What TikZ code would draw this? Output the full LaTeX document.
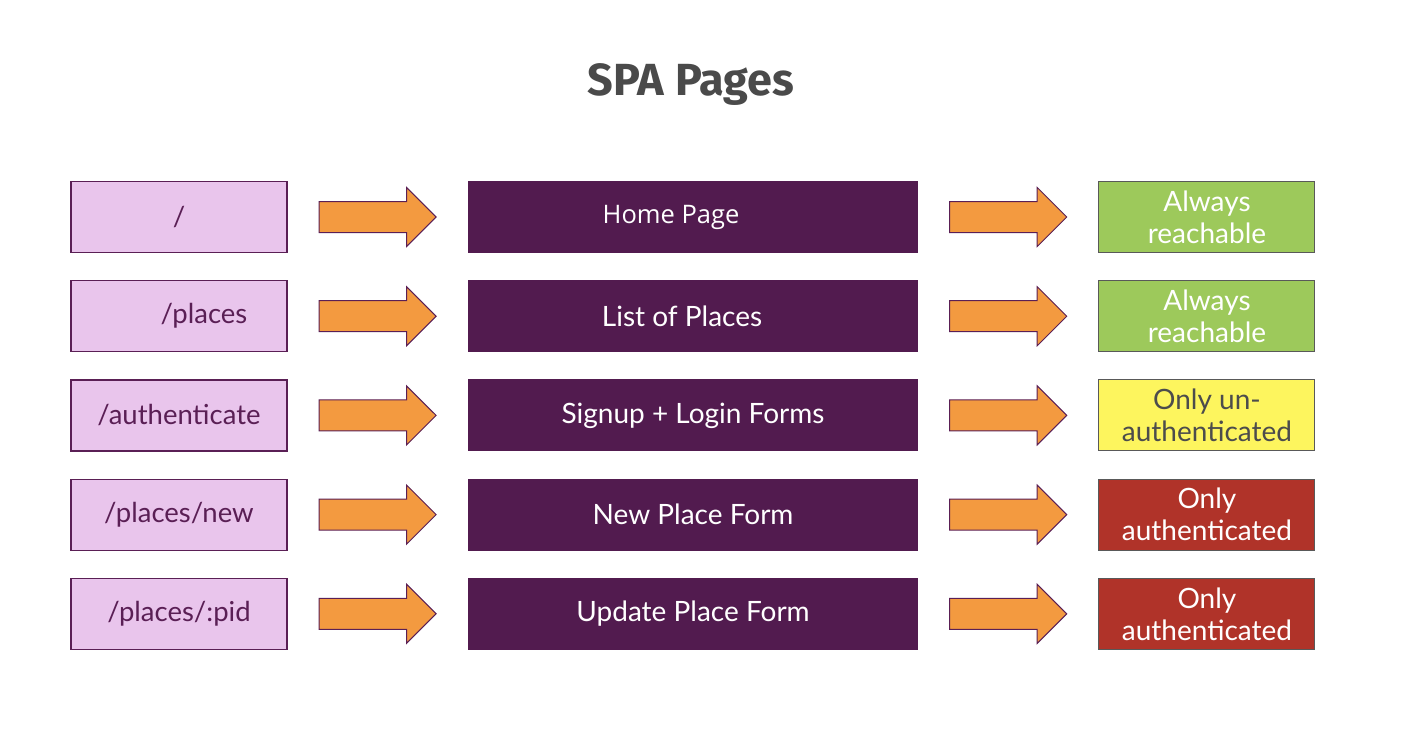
\documentclass[tikz,border=0pt]{standalone}
\usepackage{fontspec}
\setmainfont{Lato}
\newfontfamily\titlefont{Fira Sans}
\newfontfamily\homefont{Open Sans}
\usepackage{xcolor}
\usetikzlibrary{positioning, shapes.arrows}

\definecolor{routefill}{HTML}{E9C5EC}
\definecolor{routeline}{HTML}{5A1F55}
\definecolor{pagefill}{HTML}{521B4F}
\definecolor{arrowfill}{HTML}{F39A40}
\definecolor{okfill}{HTML}{9DC95B}
\definecolor{guestfill}{HTML}{FDF55E}
\definecolor{authfill}{HTML}{B03329}
\definecolor{titlegray}{HTML}{4A4A4A}

\begin{document}
\begin{tikzpicture}[
        x=1pt, y=1pt,
        node distance=27pt and 31pt,
        route/.style={rectangle, draw=routeline, line width=1.2pt, fill=routefill, text=routeline,
            minimum width=216pt, minimum height=71pt, font=\fontsize{27.5}{33}\selectfont},
        page/.style={rectangle, fill=pagefill, text=white,
            minimum width=450pt, minimum height=72pt, font=\fontsize{28}{33}\selectfont},
        access/.style={rectangle, draw=black!65, line width=1pt, text=white, align=center,
            minimum width=216pt, minimum height=71pt, font=\fontsize{28}{32}\selectfont},
        blockarrow/.style={single arrow, draw=routeline, line width=1pt, fill=arrowfill,
            inner xsep=0pt, inner ysep=15pt, minimum height=117pt, minimum width=58pt,
            single arrow head extend=14pt, single arrow head indent=0pt},
    ]
        \useasboundingbox (0,0) rectangle (1402,-729);

        % Title
        \node[text=titlegray, font=\titlefont\bfseries\fontsize{45}{54}\selectfont] (title) at (691,-85) {SPA Pages};

        % Routes
        \node[route] (route1) at (179,-217) {/};
        \node[route, below=of route1] (route2) {\kern50pt/places};
        \node[route, below=of route2] (route3) {/authenticate};
        \node[route, below=of route3] (route4) {/places/new};
        \node[route, below=of route4] (route5) {/places/:pid};

        % Arrows to pages
        \node[blockarrow, right=of route1] (arrowA1) {};
        \node[blockarrow, right=of route2] (arrowA2) {};
        \node[blockarrow, right=of route3] (arrowA3) {};
        \node[blockarrow, right=of route4] (arrowA4) {};
        \node[blockarrow, right=of route5] (arrowA5) {};

        % Pages
        \node[page, right=of arrowA1, font=\homefont\fontsize{25.5}{30}\selectfont] (page1) {Home Page\kern44pt};
        \node[page, right=of arrowA2] (page2) {List of Places\kern22pt};
        \node[page, right=of arrowA3] (page3) {Signup + Login Forms};
        \node[page, right=of arrowA4] (page4) {New Place Form};
        \node[page, right=of arrowA5] (page5) {Update Place Form};

        % Arrows to access
        \node[blockarrow, right=of page1] (arrowB1) {};
        \node[blockarrow, right=of page2] (arrowB2) {};
        \node[blockarrow, right=of page3] (arrowB3) {};
        \node[blockarrow, right=of page4] (arrowB4) {};
        \node[blockarrow, right=of page5] (arrowB5) {};

        % Access
        \node[access, fill=okfill, right=of arrowB1] (access1) {Always\\reachable};
        \node[access, fill=okfill, right=of arrowB2] (access2) {Always\\reachable};
        \node[access, fill=guestfill, text=black!70, right=of arrowB3] (access3) {Only un-\\authenticated};
        \node[access, fill=authfill, right=of arrowB4] (access4) {Only\\authenticated};
        \node[access, fill=authfill, right=of arrowB5] (access5) {Only\\authenticated};

    \end{tikzpicture}
\end{document}
